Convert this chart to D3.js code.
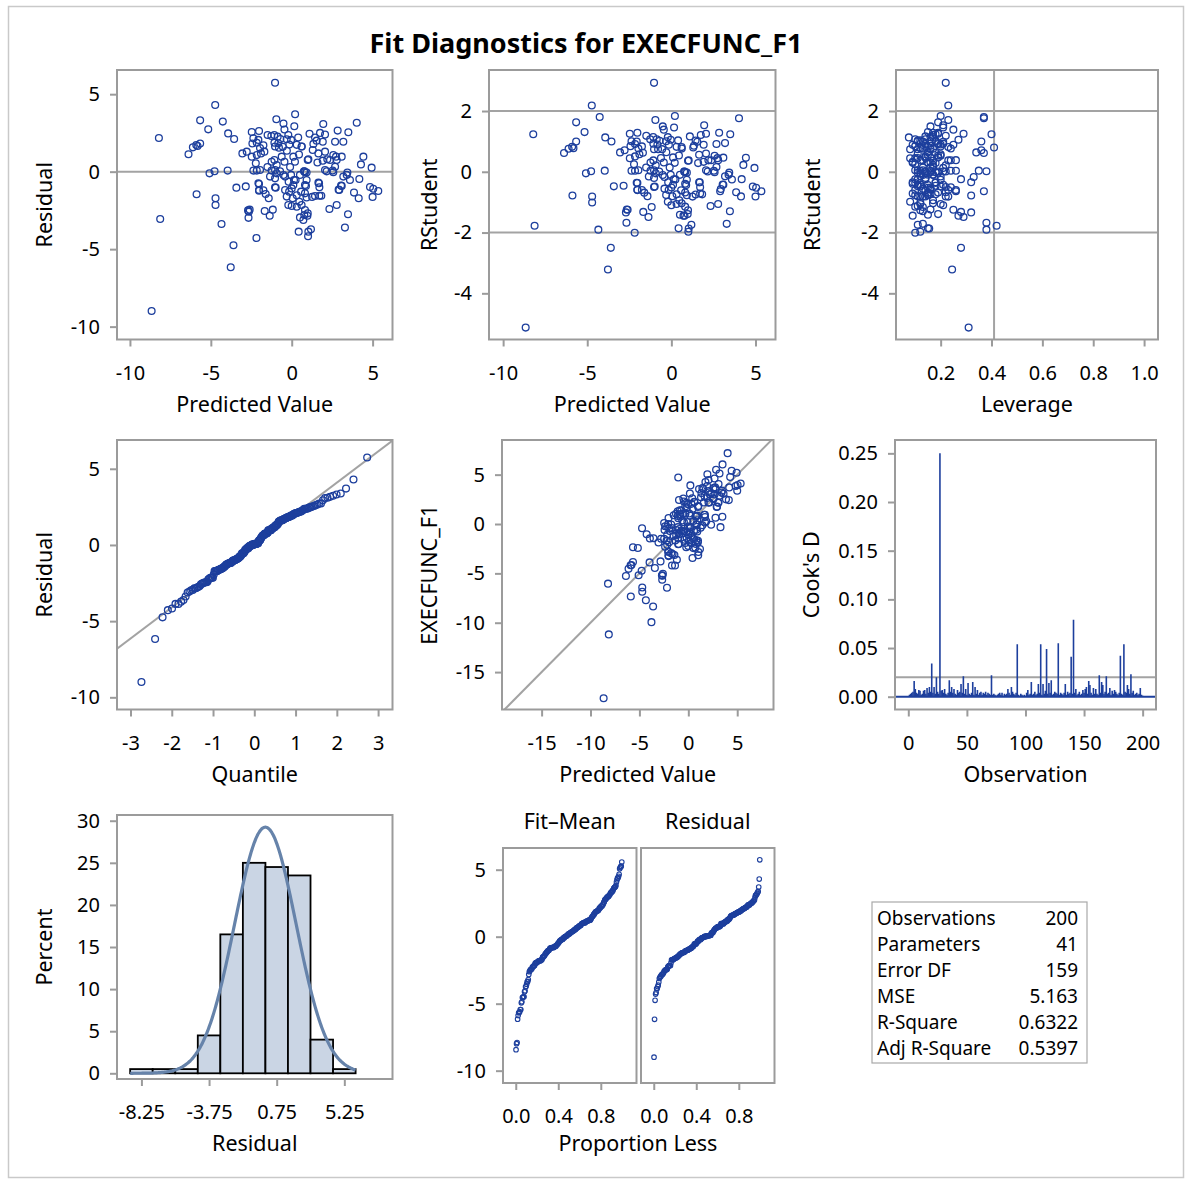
<!DOCTYPE html>
<html>
<head>
<meta charset="utf-8">
<script src="https://cdn.jsdelivr.net/npm/d3@7"></script>
<style>
  body { margin: 0; background: #fff; }
  svg text { font-family: "Noto Sans", "Open Sans", sans-serif; fill: #000; }
</style>
</head>
<body>
<svg id="chart" width="1188" height="1180"></svg>
<script>
// ---------------- data ----------------
const title = "Fit Diagnostics for EXECFUNC_F1";
const responseName = "EXECFUNC_F1";

// predicted value for each observation
const predicted = [
  -1.03,
  -4.73, 0.21, -0.95, -5.66, -4.26, 4.02, -0.51, 1.95,
  0.16, 2.84, 3.50, -5.16, -0.45, -3.93, -2.47, -2.02, -8.21, -3.56,
  -1.49, -2.37, -2.06, -1.08, -0.87, -1.07, -0.83, -1.03, -0.21, -0.04,
  -0.31, 0.31, 0.61, -2.43, -2.16, -1.96, -6.11, -5.82, -5.66, -5.90,
  1.44, 1.75, 2.06, 1.34, 1.54, 1.92, 2.68, 3.19, 0.62, -1.26,
  -0.70, 0.40, -1.75, -0.55, -0.15, 1.10, -0.79,
  -6.38, -3.05, -2.78, -2.47, -2.16, -1.90, -1.69, -2.22, -1.24, -1.07,
  -0.93, -0.62, -0.45, 0.10, 0.20, 0.99, -3.96, -2.37, -2.16, -1.96,
  -1.24, -1.03, -0.72, 0.78, 1.65, 2.06, 2.57, 2.78, 3.09, 2.74,
  2.37, 4.43, 4.28, 4.94, 1.03, 1.59, 1.92, 2.20, 0.76, 2.06,
  2.16, 2.53, 2.68, -4.77, -0.30, 0.45, -1.50, 1.30, -0.10,
  -5.08, -5.88, -3.42, -2.84, -2.02, -2.02, -1.75, -0.99, -0.41, -0.04,
  0.24, 0.51, 0.92, 0.82, -1.34, -1.03, -0.93, -2.06, -2.02, -1.61,
  -1.03, -0.41, -0.16, 0.00, 0.10, 0.58, 0.82, 0.92, 0.88, 1.65,
  1.71, 3.19, 3.40, 3.60, 4.18, 3.09, 2.94, 3.85, 4.84, 5.04,
  5.35, 2.90, 3.05, 3.44, 0.14, -0.19, -0.51, 2.57, 1.69, 0.82,
  -4.71, -4.71, -2.70, -2.60, -2.65, -2.67, -1.67, -1.17, -1.36, -1.42,
  -0.31, 0.31, -0.21, 0.00, 0.31, 0.61, 0.82, 0.78, 0.51, 3.48,
  2.78, 2.33, 1.83, 1.71, 1.26, 0.99, 0.97, 4.14, 5.00, 0.92,
  1.44, 0.06, 0.47,
  -2.18, 1.01, 1.03, 0.43, 1.19, 3.29, -4.34, 0.72, -8.13,
  -3.60, -3.77, -8.66
];

// residual for each observation
const residual = [
  5.74,
  4.30, 3.70, 3.38, 3.31, 3.23, 3.16, 3.10, 3.08,
  2.93, 2.65, 2.54, 2.73, 2.72, 2.47, 2.56, 2.62, 2.17, 2.11,
  2.37, 2.15, 2.05, 2.37, 2.26, 1.87, 1.83, 1.62, 2.37, 2.05,
  2.09, 1.73, 1.62, 1.82, 1.87, 1.52, 1.57, 1.66, 1.81, 1.72,
  2.20, 2.50, 2.39, 1.79, 2.00, 1.93, 1.93, 1.93, 1.62, 2.30,
  2.10, 2.20, 1.70, 1.60, 1.75, 2.45, 1.55,
  1.12, 1.18, 1.29, 0.97, 1.07, 1.18, 1.29, 0.54, 0.64, 0.75,
  0.43, 0.97, 0.64, 0.97, 0.64, 0.75, 0.07, 0.07, 0.07, 0.11,
  0.07, 0.11, 0.02, 0.02, 1.18, 1.29, 1.07, 0.75, 0.97, 0.97,
  0.75, 0.97, 0.47, 0.26, 0.80, 0.59, 0.71, 0.80, 0.02, 0.11,
  0.02, 0.07, 0.32, 0.03, 1.35, 1.10, 0.30, 1.40, 0.30,
  -0.11, -1.46, -1.03, -0.95, -1.23, -0.80, -1.20, -1.03, -0.32, -0.21,
  -0.54, -0.21, -0.54, -0.86, -0.32, -0.43, -0.11, -0.75, -1.18, -1.44,
  -1.01, -1.18, -1.29, -1.08, -0.86, -1.29, -1.40, -0.06, -0.92, -0.71,
  -1.01, -0.32, -0.21, -0.54, -0.47, -0.92, -1.18, -1.35, -0.99, -1.10,
  -1.25, -1.16, -0.90, -0.06, -0.54, -0.65, -0.22, -0.03, -0.75, -0.04,
  -1.72, -2.15, -2.50, -2.45, -2.58, -2.98, -2.54, -2.45, -2.84, -1.72,
  -1.61, -1.52, -2.15, -2.22, -2.26, -2.15, -2.47, -2.80, -2.95, -2.75,
  -2.15, -2.41, -1.55, -1.55, -1.63, -2.69, -2.84, -1.72, -1.63, -1.67,
  -1.57, -1.72, -1.94,
  -4.28, -4.17, -3.87, -3.87, -3.72, -3.61, -3.38, -3.12, -3.05,
  -4.75, -6.17, -8.99
];

// leverage (hat diagonal) for each observation
const leverage = [
  0.22,
  0.23, 0.20, 0.23, 0.19, 0.37, 0.37, 0.16, 0.21,
  0.21, 0.17, 0.18, 0.15, 0.25, 0.075, 0.19, 0.19, 0.40, 0.13,
  0.22, 0.11, 0.18, 0.17, 0.14, 0.21, 0.20, 0.08, 0.16, 0.27,
  0.16, 0.14, 0.23, 0.10, 0.19, 0.24, 0.17, 0.12, 0.36, 0.15,
  0.11, 0.17, 0.29, 0.16, 0.21, 0.09, 0.14, 0.19, 0.13, 0.10,
  0.18, 0.12, 0.20, 0.11, 0.25, 0.14, 0.16,
  0.37, 0.34, 0.36, 0.08, 0.14, 0.20, 0.18, 0.10, 0.15, 0.23,
  0.22, 0.11, 0.16, 0.19, 0.09, 0.17, 0.35, 0.12, 0.24, 0.10,
  0.16, 0.13, 0.19, 0.21, 0.15, 0.11, 0.20, 0.26, 0.16, 0.10,
  0.24, 0.14, 0.17, 0.21, 0.12, 0.18, 0.09, 0.13, 0.22, 0.11,
  0.14, 0.26, 0.17, 0.38, 0.15, 0.19, 0.13, 0.41, 0.16,
  0.14, 0.32, 0.11, 0.18, 0.16, 0.10, 0.23, 0.12, 0.33, 0.15,
  0.11, 0.17, 0.20, 0.09, 0.20, 0.14, 0.12, 0.18, 0.26, 0.15,
  0.22, 0.13, 0.10, 0.16, 0.21, 0.14, 0.19, 0.11, 0.15, 0.18,
  0.24, 0.12, 0.17, 0.14, 0.28, 0.11, 0.16, 0.22, 0.20, 0.15,
  0.26, 0.37, 0.12, 0.19, 0.10, 0.32, 0.13, 0.16, 0.09, 0.18,
  0.14, 0.12, 0.32, 0.25, 0.16, 0.38, 0.28, 0.13, 0.29, 0.11,
  0.15, 0.18, 0.08, 0.21, 0.12, 0.17, 0.10, 0.27, 0.15, 0.13,
  0.20, 0.11, 0.16, 0.09, 0.23, 0.12, 0.19, 0.13, 0.22, 0.10,
  0.15, 0.12, 0.17,
  0.10, 0.12, 0.155, 0.15, 0.11, 0.13, 0.38, 0.09, 0.42,
  0.28, 0.245, 0.31
];

// Cook's D by observation number (1..200)
const cooksD = [
  0.002, 0.003, 0.004, 0.005, 0.016, 0.008, 0.004, 0.003, 0.007, 0.006,
  0.002, 0.003, 0.006, 0.007, 0.003, 0.009, 0.004, 0.010, 0.005, 0.034,
  0.004, 0.010, 0.003, 0.020, 0.005, 0.003, 0.250, 0.006, 0.007, 0.004,
  0.008, 0.003, 0.002, 0.004, 0.017, 0.005, 0.010, 0.004, 0.008, 0.003,
  0.002, 0.007, 0.004, 0.005, 0.013, 0.004, 0.021, 0.003, 0.008, 0.002,
  0.014, 0.003, 0.002, 0.004, 0.015, 0.002, 0.010, 0.003, 0.007, 0.002,
  0.004, 0.005, 0.002, 0.004, 0.003, 0.005, 0.002, 0.004, 0.003, 0.002,
  0.022, 0.002, 0.003, 0.002, 0.001, 0.002, 0.003, 0.004, 0.002, 0.004,
  0.001, 0.003, 0.002, 0.003, 0.008, 0.004, 0.002, 0.010, 0.005, 0.003,
  0.002, 0.004, 0.054, 0.002, 0.001, 0.003, 0.002, 0.001, 0.002, 0.001,
  0.004, 0.007, 0.002, 0.003, 0.015, 0.002, 0.003, 0.005, 0.002, 0.003,
  0.013, 0.004, 0.054, 0.002, 0.013, 0.003, 0.006, 0.049, 0.003, 0.014,
  0.004, 0.017, 0.002, 0.003, 0.005, 0.004, 0.003, 0.055, 0.002, 0.004,
  0.003, 0.002, 0.004, 0.013, 0.002, 0.005, 0.003, 0.004, 0.041, 0.003,
  0.079, 0.004, 0.008, 0.002, 0.003, 0.005, 0.002, 0.003, 0.007, 0.004,
  0.008, 0.010, 0.003, 0.016, 0.012, 0.004, 0.002, 0.009, 0.003, 0.008,
  0.003, 0.002, 0.022, 0.004, 0.015, 0.012, 0.003, 0.005, 0.021, 0.003,
  0.004, 0.009, 0.002, 0.006, 0.003, 0.007, 0.005, 0.003, 0.002, 0.004,
  0.042, 0.003, 0.002, 0.054, 0.005, 0.004, 0.012, 0.008, 0.003, 0.023,
  0.004, 0.006, 0.002, 0.003, 0.004, 0.002, 0.003, 0.009, 0.002, 0.001
];

// residual histogram bin edges
const histEdges = [-9, -7.5, -6, -4.5, -3, -1.5, 0, 1.5, 3, 4.5, 6];

// fit statistics table
const statLabels = ["Observations", "Parameters", "Error DF", "MSE", "R-Square", "Adj R-Square"];
const statValues = ["200", "41", "159", "5.163", "0.6322", "0.5397"];

// tick values
const predTicks = [-10, -5, 0, 5];
const residTicks = [5, 0, -5, -10];
const rstudTicks = [2, 0, -2, -4];
const levTicks = [0.2, 0.4, 0.6, 0.8, 1.0];
const quantTicks = [-3, -2, -1, 0, 1, 2, 3];
const obsPredTicks = [-15, -10, -5, 0, 5];
const obsTicks = [5, 0, -5, -10, -15];
const cookTicks = [0, 0.05, 0.10, 0.15, 0.20, 0.25];
const obsNumTicks = [0, 50, 100, 150, 200];
const pctTicks = [0, 5, 10, 15, 20, 25, 30];
const histTicks = [-8.25, -3.75, 0.75, 5.25];
const propTicks = [0, 0.4, 0.8];

// ---------------- derived diagnostics ----------------
const n = predicted.length;
const p = +statValues[1];
const mse = +statValues[3];
const rootMse = Math.sqrt(mse);
const observed = predicted.map((d, i) => d + residual[i]);
const rstudent = residual.map((e, i) => {
  const r = e / (rootMse * Math.sqrt(1 - leverage[i]));
  return r * Math.sqrt((n - p - 1) / (n - p - r * r));
});
const residMean = d3.mean(residual);
const residSd = d3.deviation(residual);
const obsMean = d3.mean(observed);

// inverse standard normal CDF (Acklam)
function qnorm(pr) {
  const a = [-3.969683028665376e+01, 2.209460984245205e+02, -2.759285104469687e+02, 1.383577518672690e+02, -3.066479806614716e+01, 2.506628277459239e+00];
  const b = [-5.447609879822406e+01, 1.615858368580409e+02, -1.556989798598866e+02, 6.680131188771972e+01, -1.328068155288572e+01];
  const c = [-7.784894002430293e-03, -3.223964580411365e-01, -2.400758277161838e+00, -2.549732539343734e+00, 4.374664141464968e+00, 2.938163982698783e+00];
  const d = [7.784695709041462e-03, 3.224671290700398e-01, 2.445134137142996e+00, 3.754408661907416e+00];
  const pl = 0.02425;
  let q, r;
  if (pr < pl) {
    q = Math.sqrt(-2 * Math.log(pr));
    return (((((c[0]*q+c[1])*q+c[2])*q+c[3])*q+c[4])*q+c[5]) / ((((d[0]*q+d[1])*q+d[2])*q+d[3])*q+1);
  }
  if (pr <= 1 - pl) {
    q = pr - 0.5; r = q * q;
    return (((((a[0]*r+a[1])*r+a[2])*r+a[3])*r+a[4])*r+a[5])*q / (((((b[0]*r+b[1])*r+b[2])*r+b[3])*r+b[4])*r+1);
  }
  q = Math.sqrt(-2 * Math.log(1 - pr));
  return -(((((c[0]*q+c[1])*q+c[2])*q+c[3])*q+c[4])*q+c[5]) / ((((d[0]*q+d[1])*q+d[2])*q+d[3])*q+1);
}

// ---------------- drawing ----------------
const svg = d3.select("#chart");
const BLUE = "#1d3f9d";
const REF = "#a3a3a3";
const FRAME = "#9b9b9b";
const TICK_FS = 20;
const LABEL_FS = 21.5;
let clipCount = 0;

svg.append("rect")
  .attr("x", 8.5).attr("y", 6.5).attr("width", 1175).attr("height", 1171)
  .attr("fill", "none").attr("stroke", "#c9c9c9").attr("stroke-width", 1.5);

svg.append("text")
  .attr("x", 586).attr("y", 53).attr("text-anchor", "middle")
  .style("font-size", "27px").style("font-weight", "bold")
  .text(title);

const intFmt = d => String(d);

function panel(o) {
  const x = d3.scaleLinear().domain(o.xDomain).range([o.left, o.right]);
  const y = d3.scaleLinear().domain(o.yDomain).range([o.bottom, o.top]);
  const g = svg.append("g");
  const id = "clip" + (++clipCount);
  svg.append("clipPath").attr("id", id).append("rect")
    .attr("x", o.left).attr("y", o.top)
    .attr("width", o.right - o.left).attr("height", o.bottom - o.top);
  const plot = g.append("g").attr("clip-path", `url(#${id})`);

  if (o.xTicks) {
    const ax = g.append("g").attr("transform", `translate(0,${o.bottom})`)
      .call(d3.axisBottom(x).tickValues(o.xTicks).tickFormat(o.xFmt || intFmt).tickSize(7).tickSizeOuter(0));
    styleAxis(ax);
    ax.selectAll("text").attr("y", 40).attr("dy", null).style("font-size", TICK_FS + "px");
  }
  if (o.yTicks) {
    const ay = g.append("g").attr("transform", `translate(${o.left},0)`)
      .call(d3.axisLeft(y).tickValues(o.yTicks).tickFormat(o.yFmt || intFmt).tickSize(7).tickPadding(10).tickSizeOuter(0));
    styleAxis(ay);
    ay.selectAll("text").style("font-size", TICK_FS + "px");
  }
  g.append("rect")
    .attr("x", o.left).attr("y", o.top)
    .attr("width", o.right - o.left).attr("height", o.bottom - o.top)
    .attr("fill", "none").attr("stroke", FRAME).attr("stroke-width", 2);

  if (o.xLabel) {
    svg.append("text").attr("x", (o.left + o.right) / 2).attr("y", o.bottom + 72)
      .attr("text-anchor", "middle").style("font-size", LABEL_FS + "px").text(o.xLabel);
  }
  if (o.yLabel) {
    const cy = (o.top + o.bottom) / 2;
    svg.append("text").attr("transform", `translate(${o.yLabelX},${cy}) rotate(-90)`)
      .attr("text-anchor", "middle").style("font-size", LABEL_FS + "px").text(o.yLabel);
  }
  return { plot, x, y, o };
}

function styleAxis(a) {
  a.select(".domain").remove();
  a.selectAll(".tick line").attr("stroke", FRAME).attr("stroke-width", 2);
  a.selectAll("text").attr("fill", "#000");
}

function hline(P, v) {
  P.plot.append("line").attr("x1", P.o.left).attr("x2", P.o.right)
    .attr("y1", P.y(v)).attr("y2", P.y(v)).attr("stroke", REF).attr("stroke-width", 2);
}
function vline(P, v) {
  P.plot.append("line").attr("y1", P.o.top).attr("y2", P.o.bottom)
    .attr("x1", P.x(v)).attr("x2", P.x(v)).attr("stroke", REF).attr("stroke-width", 2);
}
function circles(P, xs, ys, r, sw) {
  P.plot.append("g").selectAll("circle").data(xs).join("circle")
    .attr("cx", d => P.x(d)).attr("cy", (d, i) => P.y(ys[i]))
    .attr("r", r).attr("fill", "none").attr("stroke", BLUE).attr("stroke-width", sw);
}

// 1. Residual by predicted value
const P1 = panel({ left: 117, right: 392.5, top: 70, bottom: 339.5,
  xDomain: [-10.80, 6.23], yDomain: [-10.83, 6.56],
  xTicks: predTicks, yTicks: residTicks,
  xLabel: "Predicted Value", yLabel: "Residual", yLabelX: 52 });
hline(P1, 0);
circles(P1, predicted, residual, 3.4, 1.3);

// 2. RStudent by predicted value
const P2 = panel({ left: 489, right: 775.5, top: 70, bottom: 339.5,
  xDomain: [-10.84, 6.19], yDomain: [-5.52, 3.35],
  xTicks: predTicks, yTicks: rstudTicks,
  xLabel: "Predicted Value", yLabel: "RStudent", yLabelX: 437 });
hline(P2, 2); hline(P2, -2);
circles(P2, predicted, rstudent, 3.4, 1.3);

// 3. RStudent by leverage
const P3 = panel({ left: 896, right: 1158, top: 70, bottom: 339.5,
  xDomain: [0.0244, 1.0547], yDomain: [-5.52, 3.35],
  xTicks: levTicks, yTicks: rstudTicks, xFmt: d3.format(".1f"),
  xLabel: "Leverage", yLabel: "RStudent", yLabelX: 820 });
hline(P3, 2); hline(P3, -2); vline(P3, 2 * p / n);
circles(P3, leverage, rstudent, 3.4, 1.3);

// 4. Normal quantile plot of residuals
const sortedRes = residual.slice().sort(d3.ascending);
const quant = sortedRes.map((d, i) => qnorm((i + 1 - 0.375) / (n + 0.25)));
const P4 = panel({ left: 117, right: 392.5, top: 440, bottom: 709.5,
  xDomain: [-3.327, 3.349], yDomain: [-10.80, 6.89],
  xTicks: quantTicks, yTicks: residTicks,
  xLabel: "Quantile", yLabel: "Residual", yLabelX: 52 });
P4.plot.append("line")
  .attr("x1", P4.x(-3.5)).attr("y1", P4.y(residMean - 3.5 * residSd))
  .attr("x2", P4.x(3.5)).attr("y2", P4.y(residMean + 3.5 * residSd))
  .attr("stroke", REF).attr("stroke-width", 2);
circles(P4, quant, sortedRes, 3.4, 1.3);

// 5. Observed by predicted
const P5 = panel({ left: 502, right: 773.5, top: 440, bottom: 709.5,
  xDomain: [-19.05, 8.71], yDomain: [-18.79, 8.51],
  xTicks: obsPredTicks, yTicks: obsTicks,
  xLabel: "Predicted Value", yLabel: responseName, yLabelX: 437 });
P5.plot.append("line")
  .attr("x1", P5.x(-20)).attr("y1", P5.y(-20)).attr("x2", P5.x(10)).attr("y2", P5.y(10))
  .attr("stroke", REF).attr("stroke-width", 2);
circles(P5, predicted, observed, 3.4, 1.3);

// 6. Cook's D by observation
const P6 = panel({ left: 895, right: 1156, top: 440, bottom: 709.5,
  xDomain: [-11.35, 211.4], yDomain: [-0.01315, 0.2637],
  xTicks: obsNumTicks, yTicks: cookTicks, yFmt: d3.format(".2f"),
  xLabel: "Observation", yLabel: "Cook's D", yLabelX: 819 });
hline(P6, 4 / n);
P6.plot.append("g").selectAll("line").data(cooksD).join("line")
  .attr("x1", (d, i) => P6.x(i + 1)).attr("x2", (d, i) => P6.x(i + 1))
  .attr("y1", P6.y(0)).attr("y2", d => P6.y(d))
  .attr("stroke", BLUE).attr("stroke-width", 1.6);
P6.plot.append("line").attr("x1", P6.o.left).attr("x2", P6.o.right)
  .attr("y1", P6.y(0)).attr("y2", P6.y(0)).attr("stroke", BLUE).attr("stroke-width", 2);

// 7. Residual histogram with normal density
const bins = d3.bin().domain([histEdges[0], histEdges[histEdges.length - 1]])
  .thresholds(histEdges.slice(1, -1))(residual);
const P7 = panel({ left: 117, right: 392.5, top: 815, bottom: 1079,
  xDomain: [-9.875, 8.455], yDomain: [-0.677, 30.68],
  xTicks: histTicks, yTicks: pctTicks, xFmt: d => d.toFixed(2),
  xLabel: "Residual", yLabel: "Percent", yLabelX: 52 });
P7.plot.append("g").selectAll("rect").data(bins).join("rect")
  .attr("x", d => P7.x(d.x0)).attr("width", d => P7.x(d.x1) - P7.x(d.x0))
  .attr("y", d => P7.y(100 * d.length / n))
  .attr("height", d => P7.y(0) - P7.y(100 * d.length / n))
  .attr("fill", "#cad5e4").attr("stroke", "#000").attr("stroke-width", 1.8);
const binW = histEdges[1] - histEdges[0];
const curveX = d3.range(0, 301).map(k => histEdges[0] + k * (histEdges[histEdges.length - 1] - histEdges[0]) / 300);
P7.plot.append("path")
  .datum(curveX)
  .attr("d", d3.line()
    .x(v => P7.x(v))
    .y(v => P7.y(100 * binW * Math.exp(-0.5 * ((v - residMean) / residSd) ** 2) / (residSd * Math.sqrt(2 * Math.PI))))
    .curve(d3.curveBasis))
  .attr("fill", "none").attr("stroke", "#6683aa").attr("stroke-width", 3.2);

// 8. Residual-fit spread plot
const fitCentered = predicted.map(d => d - obsMean).sort(d3.ascending);
const resCentered = residual.slice().sort(d3.ascending);
const prop = fitCentered.map((d, i) => (i + 0.5) / n);
const P8a = panel({ left: 503, right: 636.5, top: 848, bottom: 1083,
  xDomain: [-0.12, 1.136], yDomain: [-10.92, 6.62],
  xTicks: propTicks, yTicks: residTicks, xFmt: d3.format(".1f") });
circles(P8a, prop, fitCentered, 2.3, 1.1);
const P8b = panel({ left: 641, right: 774.5, top: 848, bottom: 1083,
  xDomain: [-0.12, 1.136], yDomain: [-10.92, 6.62],
  xTicks: propTicks, xFmt: d3.format(".1f") });
circles(P8b, prop, resCentered, 2.3, 1.1);
svg.append("text").attr("x", (503 + 636.5) / 2).attr("y", 829).attr("text-anchor", "middle")
  .style("font-size", LABEL_FS + "px").text("Fit\u2013Mean");
svg.append("text").attr("x", (641 + 774.5) / 2).attr("y", 829).attr("text-anchor", "middle")
  .style("font-size", LABEL_FS + "px").text("Residual");
svg.append("text").attr("x", 638).attr("y", 1151).attr("text-anchor", "middle")
  .style("font-size", LABEL_FS + "px").text("Proportion Less");

// 9. Fit statistics
const tbl = svg.append("g");
tbl.append("rect").attr("x", 872).attr("y", 902).attr("width", 215).attr("height", 161)
  .attr("fill", "#fff").attr("stroke", "#a9a9a9").attr("stroke-width", 1.2);
statLabels.forEach((lab, i) => {
  tbl.append("text").attr("x", 877).attr("y", 925 + 26 * i)
    .style("font-size", "19px").text(lab);
  tbl.append("text").attr("x", 1078).attr("y", 925 + 26 * i).attr("text-anchor", "end")
    .style("font-size", "19px").text(statValues[i]);
});
</script>
</body>
</html>
